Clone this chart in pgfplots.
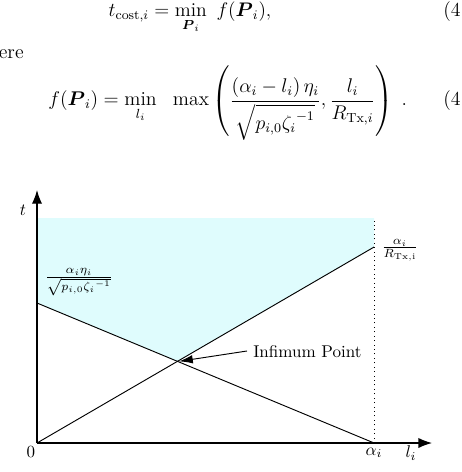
\documentclass[border=0pt]{standalone}
\usepackage{amsmath,amssymb}
\usepackage{graphicx}
\usepackage{fontspec}
\usepackage{pgfplots}
\pgfplotsset{compat=1.18}
\usetikzlibrary{arrows.meta}
\definecolor{shade}{RGB}{223,252,253}
\newcommand{\eqfont}{\fontsize{12}{14}\selectfont}
\newcommand{\eq}[2][0.97]{\scalebox{#1}{\eqfont #2}}
\begin{document}
\begin{tikzpicture}[x=0.587pt,y=0.587pt]
\useasboundingbox (0,0) rectangle (462,472);
\clip (0,0) rectangle (462,472);
% equations above the figure
\node[anchor=base,inner sep=0pt] at (190,455) {\eq[0.96]{$\displaystyle t_{\mathrm{cost},i} = \min_{\boldsymbol{P}_i}\ f(\boldsymbol{P}_i),$}};
\node[anchor=base west,inner sep=0pt] at (443,455) {\eq{(4}};
\node[anchor=base east,inner sep=0pt] at (24,413) {\eq{where}};
\node[anchor=base west,inner sep=0pt] at (48,366) {\eq{$\displaystyle f(\boldsymbol{P}_i) = \min_{l_i}\ \ \max\left(\frac{(\alpha_i - l_i)\,\eta_i}{\sqrt{p_{i,0}{\zeta_i}^{-1}}}, \frac{l_i}{R_{\mathrm{Tx},i}}\right)\;.$}};
\node[anchor=base west,inner sep=0pt] at (443,366) {\eq{(4}};
% the chart
\begin{axis}[at={(21.72pt,17.02pt)}, anchor=south west,
  scale only axis, width=231.9pt, height=148.5pt,
  xmin=0, xmax=1.172, ymin=0, ymax=253,
  axis lines=left,
  axis line style={line width=0.75pt, -{Latex[length=8pt,width=6pt]}},
  ticks=none, clip=false, axis on top]
  \addplot[fill=shade, draw=none] coordinates {(0,225) (0,140) (0.4167,81.67) (1,196) (1,225)} -- cycle;
  \addplot[black, line width=0.55pt] coordinates {(0,140) (1,0)};
  \addplot[black, line width=0.55pt] coordinates {(0,0) (1,196)};
  \addplot[black, dotted, line width=0.6pt] coordinates {(1,0) (1,225)};
  \coordinate (inf) at (axis cs:0.4167,81.67);
\end{axis}
\node at (23,262) {$t$};
\node at (79,190) {$\frac{\alpha_i\eta_i}{\sqrt{p_{i,0}{\zeta_i}^{-1}}}$};
\node at (400,222) {$\frac{\alpha_i}{R_{\mathrm{Tx,i}}}$};
\node at (31,20) {$0$};
\node at (374,19) {$\alpha_i$};
\node at (411,19) {$l_i$};
\node[anchor=base west,inner sep=0pt] at (253,114) {Infimum Point};
\draw[line width=0.55pt, -{Latex[length=8pt,width=5pt]}] (247,121) -- ([xshift=1pt]inf);
\end{tikzpicture}
\end{document}
